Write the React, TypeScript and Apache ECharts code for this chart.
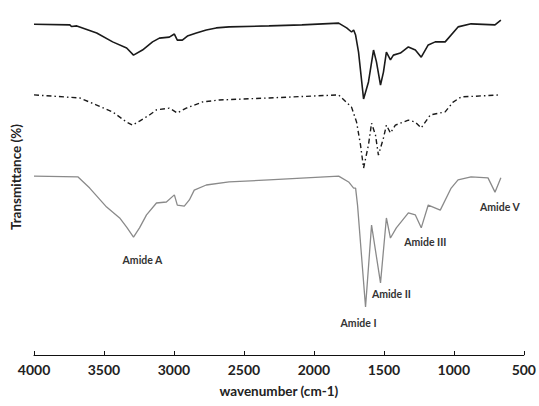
import React, { useEffect, useRef } from "react";
import * as echarts from "echarts";

// Wavenumber (cm-1) and transmittance (arbitrary units, offset spectra)
const topWn = [4000, 3744, 3732, 3694, 3552, 3438, 3338, 3289, 3225, 3153, 3104, 3033, 2997, 2976, 2940, 2904, 2840, 2769, 2698, 2606, 2321, 2086, 1823, 1766, 1731, 1716, 1702, 1681, 1645, 1610, 1574, 1553, 1524, 1503, 1482, 1453, 1432, 1382, 1325, 1275, 1233, 1183, 1133, 1062, 970, 877, 706, 664];
const topT = [97.3, 97.1, 96.6, 96.8, 94.7, 92.1, 90.3, 88.2, 89.7, 92.1, 93.2, 93.5, 94.4, 92.6, 92.6, 93.8, 94.7, 95.6, 96.2, 96.5, 96.8, 97.1, 97.6, 96.2, 95.0, 95.6, 94.1, 89.1, 75.3, 80.3, 89.7, 86.2, 79.4, 83.2, 89.1, 86.8, 88.2, 88.8, 90.6, 89.7, 87.6, 91.2, 92.1, 92.1, 96.5, 97.4, 97.1, 98.5];

const midWn = [4000, 3673, 3552, 3438, 3338, 3296, 3246, 3175, 3125, 3033, 2976, 2912, 2798, 2677, 2321, 1823, 1731, 1695, 1667, 1645, 1610, 1588, 1560, 1539, 1503, 1482, 1453, 1418, 1325, 1275, 1233, 1168, 1062, 1005, 948, 664];
const midT = [76.5, 75.6, 73.5, 71.5, 68.5, 67.6, 68.8, 70.6, 72.1, 72.6, 71.2, 72.6, 74.4, 75.0, 75.6, 76.5, 72.9, 68.5, 61.8, 55.0, 61.8, 68.2, 64.7, 58.8, 63.8, 67.6, 65.3, 67.6, 69.1, 68.5, 66.8, 70.6, 71.5, 74.4, 75.9, 76.5];

const botWn = [4000, 3687, 3602, 3481, 3388, 3338, 3289, 3246, 3196, 3125, 3054, 2997, 2976, 2926, 2890, 2855, 2769, 2606, 2321, 1823, 1752, 1716, 1702, 1688, 1631, 1588, 1524, 1482, 1453, 1411, 1325, 1275, 1233, 1183, 1097, 1019, 970, 877, 756, 706, 664];
const botT = [52.6, 52.4, 49.1, 43.5, 40.3, 37.6, 34.7, 37.4, 41.2, 44.7, 45.0, 47.1, 44.1, 43.8, 45.6, 48.5, 50.0, 50.9, 51.5, 52.6, 50.9, 49.1, 49.1, 44.0, 14.1, 38.2, 21.2, 40.3, 34.4, 37.4, 41.8, 41.2, 37.4, 44.1, 42.6, 49.1, 51.5, 52.4, 52.1, 47.9, 52.1];

const bandNames = ["Amide A", "Amide I", "Amide II", "Amide III", "Amide V"];
const bandWn = [3225, 1681, 1446, 1204, 671];
const bandT = [27.9, 9.4, 17.9, 33.2, 43.5];

const xTicks = [4000, 3500, 3000, 2500, 2000, 1500, 1000, 500];

const zip = (a: number[], b: number[]) => a.map((v, i) => [v, b[i]]);

export default function App() {
  const ref = useRef<HTMLDivElement>(null);
  useEffect(() => {
    const chart = echarts.init(ref.current!, undefined, { renderer: "svg" });
    chart.setOption({
      animation: false,
      backgroundColor: "#ffffff",
      grid: { left: 34, right: 13, top: 15, bottom: 51 },
      xAxis: {
        type: "value",
        inverse: true,
        min: xTicks[xTicks.length - 1],
        max: xTicks[0],
        interval: 500,
        name: "wavenumber (cm-1)",
        nameLocation: "middle",
        nameGap: 29,
        nameTextStyle: { fontFamily: "Lato", fontWeight: "bold", fontSize: 13.5, color: "#222" },
        axisLine: { lineStyle: { color: "#111", width: 1 } },
        axisTick: { inside: true, length: 4, lineStyle: { color: "#111" } },
        axisLabel: {
          fontFamily: "Lato",
          fontWeight: "bold",
          fontSize: 14,
          color: "#222",
          margin: 7,
          formatter: (v: number) => String(v),
        },
        splitLine: { show: false },
      },
      yAxis: {
        type: "value",
        min: 0,
        max: 100,
        name: "Transmittance (%)",
        nameLocation: "middle",
        nameRotate: 90,
        nameGap: 11,
        nameTextStyle: { fontFamily: "Lato", fontWeight: "bold", fontSize: 13.5, color: "#222", padding: [0, 0, 0, 16] },
        axisLine: { show: false },
        axisTick: { show: false },
        axisLabel: { show: false },
        splitLine: { show: false },
      },
      series: [
        {
          type: "line",
          data: zip(topWn, topT),
          showSymbol: false,
          symbol: "none",
          lineStyle: { color: "#1a1a1a", width: 1.6 },
        },
        {
          type: "line",
          data: zip(midWn, midT),
          showSymbol: false,
          symbol: "none",
          lineStyle: { color: "#1a1a1a", width: 1.4, type: [5, 3, 1.5, 3] },
        },
        {
          type: "line",
          data: zip(botWn, botT),
          showSymbol: false,
          symbol: "none",
          lineStyle: { color: "#8a8a8a", width: 1.3 },
          markPoint: {
            symbol: "circle",
            symbolSize: 0,
            data: bandNames.map((n, i) => ({ name: n, coord: [bandWn[i], bandT[i]] })),
            label: {
              show: true,
              position: "inside",
              formatter: "{b}",
              fontFamily: "Lato",
              fontWeight: "bold",
              fontSize: 10.5,
              color: "#333",
            },
          },
        },
      ],
    });
    return () => chart.dispose();
  }, []);
  return <div ref={ref} style={{ position: "fixed", left: 0, top: 0, width: 539, height: 406 }} />;
}
